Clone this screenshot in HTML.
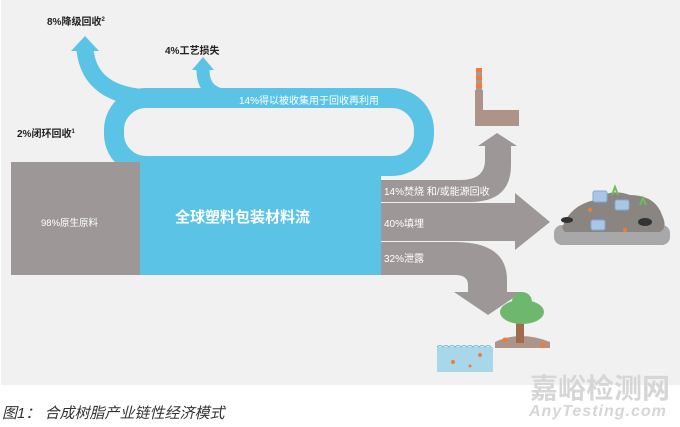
<!DOCTYPE html>
<html><head><meta charset="utf-8"><style>
body{margin:0;width:680px;height:427px;background:#fff;overflow:hidden}
svg{display:block}
text{font-family:"Liberation Sans","Noto Sans CJK SC",sans-serif}
</style></head><body>
<svg width="680" height="427" viewBox="0 0 680 427" xmlns="http://www.w3.org/2000/svg">
<rect x="1" y="0" width="679" height="385" fill="#f1f1f1"/>
<!-- blue loop -->
<rect x="114" y="98" width="310" height="68" rx="32" fill="none" stroke="#5bc4e6" stroke-width="20"/>
<!-- 8% arrow -->
<path d="M150,98 Q90,96 85,50" fill="none" stroke="#5bc4e6" stroke-width="17"/>
<polygon points="71,51 99,51 85,36" fill="#5bc4e6"/>
<!-- 4% arrow -->
<path d="M228,96 Q203,94 203,70" fill="none" stroke="#5bc4e6" stroke-width="13"/>
<polygon points="192,70 214,70 203,57" fill="#5bc4e6"/>
<!-- boxes -->
<rect x="11" y="162" width="129" height="113" fill="#9e9798"/>
<rect x="140" y="162" width="241" height="113" fill="#5bc4e6"/>
<!-- gray flows -->
<path d="M381,180 L460,180 Q485,180 485,160 L485,145 L511,145 L511,165 Q511,202 470,202 L381,202 Z" fill="#9e9798"/>
<polygon points="478,146 517,146 497,133" fill="#9e9798"/>
<rect x="381" y="203" width="135" height="38" fill="#9e9798"/>
<polygon points="515,193 550,222 515,250" fill="#9e9798"/>
<path d="M381,242 L455,242 Q507,242 507,280 L507,292 L468,292 L468,285 Q468,275 455,275 L381,275 Z" fill="#9e9798"/>
<polygon points="454,292 522,292 488,315" fill="#9e9798"/>
<!-- factory -->
<rect x="476" y="68" width="6" height="35" fill="#b19687"/>
<rect x="476" y="68" width="6" height="4" fill="#f07c3c"/>
<rect x="476" y="76" width="6" height="4" fill="#f07c3c"/>
<rect x="476" y="84" width="6" height="4" fill="#f07c3c"/>
<path d="M475,90 L483,90 L483,110 L519,110 L519,126 L475,126 Z" fill="#ad9488"/>
<!-- landfill -->
<rect x="554" y="225" width="116" height="20" rx="8" fill="#a8a8aa"/>
<path d="M562,228 Q570,205 595,200 Q610,188 630,195 Q655,195 662,215 Q668,228 660,232 L565,232 Z" fill="#8a8580"/>
<rect x="593" y="191" width="14" height="11" rx="2" fill="#aac6e6" stroke="#7fa9d8"/>
<rect x="615" y="200" width="14" height="10" rx="2" fill="#aac6e6" stroke="#7fa9d8"/>
<rect x="591" y="220" width="14" height="10" rx="2" fill="#aac6e6" stroke="#7fa9d8"/>
<ellipse cx="567" cy="220" rx="6" ry="3" fill="#333"/><ellipse cx="645" cy="222" rx="7" ry="4" fill="#333"/>
<circle cx="590" cy="210" r="2" fill="#f07c3c"/><circle cx="625" cy="230" r="2" fill="#f07c3c"/>
<path d="M612,195 l3,-8 l3,8 M640,205 l3,-7 l3,7" stroke="#6cbf5a" stroke-width="2" fill="none"/>
<!-- tree -->
<path d="M495,342 Q520,330 550,342 L550,348 L495,348 Z" fill="#ad9488"/>
<rect x="516" y="318" width="8" height="25" fill="#9e6b4f"/>
<ellipse cx="522" cy="312" rx="22" ry="12" fill="#6db86d"/>
<circle cx="522" cy="302" r="10" fill="#6db86d"/>
<circle cx="505" cy="340" r="2.5" fill="#f07c3c"/><circle cx="543" cy="345" r="2.5" fill="#f07c3c"/>
<!-- water -->
<rect x="437" y="347" width="56" height="25" fill="#a9d7ea"/>
<path d="M437,347 q3,-3 6,0 q3,-3 6,0 q3,-3 6,0 q3,-3 6,0 q3,-3 6,0 q3,-3 6,0 q3,-3 6,0 q3,-3 6,0 q3,-3 6,0" fill="none" stroke="#6bb8d8"/>
<circle cx="453" cy="362" r="2" fill="#f07c3c"/><circle cx="480" cy="355" r="2" fill="#f07c3c"/><circle cx="470" cy="366" r="1.5" fill="#f07c3c"/>
<!-- texts -->
<g font-weight="bold" font-size="10" fill="#222">
<text x="47" y="25">8%降级回收<tspan font-size="6" dy="-4">2</tspan></text>
<text x="165" y="54">4%工艺损失</text>
<text x="17" y="137">2%闭环回收<tspan font-size="6" dy="-4">1</tspan></text>
</g>
<g fill="#fff" font-size="10">
<text x="239" y="104">14%得以被收集用于回收再利用</text>
<text x="41" y="226" font-size="9.5">98%原生原料</text>
<text x="175" y="222" font-size="15" font-weight="bold">全球塑料包装材料流</text>
<text x="384" y="195">14%焚烧 和/或能源回收</text>
<text x="384" y="227">40%填埋</text>
<text x="384" y="262">32%泄露</text>
</g>
<text x="2" y="418" font-size="15" font-style="italic" fill="#333">图1：  合成树脂产业链性经济模式</text>
<text x="530" y="398" font-size="28" font-weight="bold" fill="#d6d6d6">嘉峪检测网</text>
<text x="529" y="416" font-size="16" font-weight="bold" font-style="italic" fill="#d6d6d6" letter-spacing="1">AnyTesting.com</text>
</svg>
</body></html>
